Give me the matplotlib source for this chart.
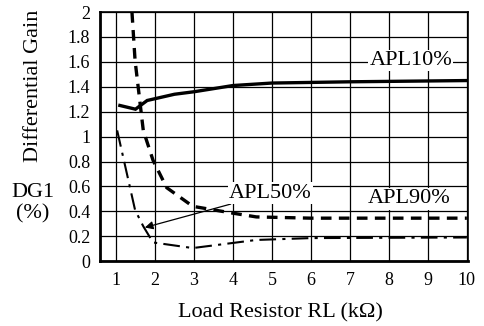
import matplotlib.pyplot as plt

plt.rcParams['font.family'] = ['Liberation Serif', 'DejaVu Serif']

# load resistor (kOhm) vs differential gain (%)
rl_apl10 = [1.1, 1.5, 1.8, 2.5, 3.0, 4.0, 5.0, 7.0, 10.0]
dg_apl10 = [1.25, 1.22, 1.29, 1.34, 1.36, 1.41, 1.43, 1.44, 1.45]

rl_apl90 = [1.41, 1.49, 1.7, 1.95, 2.3, 2.97, 4.0, 4.6, 6.0, 10.0]
dg_apl90 = [2.0, 1.61, 1.05, 0.81, 0.59, 0.44, 0.385, 0.355, 0.345, 0.345]

rl_apl50 = [1.03, 1.49, 1.7, 1.95, 2.97, 4.6, 6.0, 10.0]
dg_apl50 = [1.05, 0.41, 0.28, 0.15, 0.105, 0.17, 0.185, 0.19]

xticks = [1, 2, 3, 4, 5, 6, 7, 8, 9, 10]
yticks = [0, 0.2, 0.4, 0.6, 0.8, 1, 1.2, 1.4, 1.6, 1.8, 2]
ylabels = ['0', '0.2', '0.4', '0.6', '0.8', '1', '1.2', '1.4', '1.6', '1.8', '2']

fig = plt.figure(figsize=(4.84, 3.26), dpi=100)
ax = fig.add_axes([0.2066, 0.199, 0.7604, 0.764])

ax.set_xlim(0.59, 10.03)
ax.set_ylim(0, 2.0)
ax.set_xticks(xticks)
ax.set_yticks(yticks)
ax.set_yticklabels(ylabels)
ax.tick_params(length=0, labelsize=13)
ax.tick_params(axis='x', pad=8)
ax.tick_params(axis='y', pad=7)
ax.xaxis.grid(True, color='black', linewidth=0.9)
ax.yaxis.grid(True, color='black', linewidth=0.9)
ax.set_axisbelow(True)

ax.plot(rl_apl10, dg_apl10, color='black', lw=2.4, solid_joinstyle='miter')
ax.plot(rl_apl90, dg_apl90, color='black', lw=2.4, dashes=(3.2, 2.2))
ax.plot(rl_apl50, dg_apl50, color='black', lw=1.5, dashes=(8, 3, 1.5, 3))

for side in ['left', 'bottom']:
    ax.spines[side].set_linewidth(2.0)
for side in ['top', 'right']:
    ax.spines[side].set_linewidth(1.2)

box = dict(facecolor='white', edgecolor='none', pad=1.0)
ax.text(7.5, 1.61, 'APL10%', fontsize=16, ha='left', va='center', bbox=box)
ax.text(7.45, 0.5, 'APL90%', fontsize=16, ha='left', va='center', bbox=box)
ax.annotate('APL50%', xy=(1.74, 0.27), xytext=(3.9, 0.545),
            fontsize=16, ha='left', va='center', bbox=box,
            arrowprops=dict(arrowstyle='-|>', color='black', lw=0.9,
                            shrinkA=0, shrinkB=0, mutation_scale=12))

fig.text(0.07, 0.736, 'Differential Gain', rotation=90, fontsize=16,
         ha='center', va='center')
fig.text(0.068, 0.411, 'DG1', fontsize=16, ha='center', va='center')
fig.text(0.068, 0.343, '(%)', fontsize=16, ha='center', va='center')
fig.text(0.579, 0.04, 'Load Resistor RL (k\u03a9)', fontsize=16,
         ha='center', va='center')

fig.savefig('out.png', dpi=100)
